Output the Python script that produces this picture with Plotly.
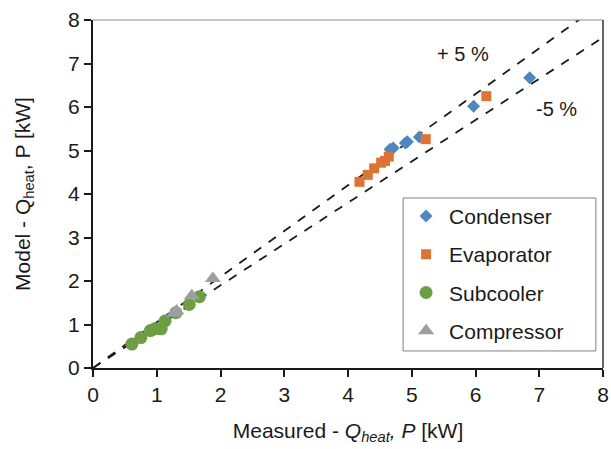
import plotly.graph_objects as go

cond_x = [4.66, 4.71, 4.90, 4.93, 5.12, 5.97, 6.85]
cond_y = [5.03, 5.06, 5.17, 5.20, 5.31, 6.02, 6.67]

evap_x = [4.18, 4.31, 4.41, 4.52, 4.58, 4.64, 5.22, 6.17]
evap_y = [4.28, 4.44, 4.59, 4.72, 4.76, 4.86, 5.26, 6.25]

sub_x = [0.61, 0.75, 0.90, 0.97, 1.07, 1.13, 1.30, 1.51, 1.67]
sub_y = [0.55, 0.70, 0.86, 0.90, 0.90, 1.08, 1.27, 1.46, 1.64]

comp_x = [1.27, 1.31, 1.55, 1.88]
comp_y = [1.26, 1.31, 1.66, 2.06]

line_x = [0, 8]
plus_factor = 1.05
minus_factor = 0.95

FONT = "Liberation Sans Narrow, Arial Narrow, Liberation Sans, Arial, sans-serif"

fig = go.Figure()
fig.add_trace(go.Scatter(x=line_x, y=[v * plus_factor for v in line_x], mode="lines",
                         line=dict(color="#1a1a1a", width=1.8, dash="dash"), showlegend=False,
                         hoverinfo="skip"))
fig.add_trace(go.Scatter(x=line_x, y=[v * minus_factor for v in line_x], mode="lines",
                         line=dict(color="#1a1a1a", width=1.8, dash="dash"), showlegend=False,
                         hoverinfo="skip"))

fig.add_trace(go.Scatter(x=cond_x, y=cond_y, mode="markers", name="Condenser", legendgroup="a",
                         marker=dict(symbol="diamond", size=10, color="#4F86C0")))
fig.add_trace(go.Scatter(x=evap_x, y=evap_y, mode="markers", name="Evaporator", legendgroup="b",
                         marker=dict(symbol="square", size=10, color="#DD7436")))
fig.add_trace(go.Scatter(x=sub_x, y=sub_y, mode="markers", name="Subcooler", legendgroup="c",
                         marker=dict(symbol="circle", size=13, color="#6E9E44")))
fig.add_trace(go.Scatter(x=comp_x, y=comp_y, mode="markers", name="Compressor", legendgroup="d",
                         marker=dict(symbol="triangle-up", size=14, color="#9E9E9E")))

axis_common = dict(range=[0, 8], dtick=1, showgrid=False, zeroline=False,
                   showline=True, linecolor="#1a1a1a", linewidth=2, automargin=False,
                   ticks="outside", ticklen=7, tickwidth=1.5, tickcolor="#1a1a1a",
                   tickfont=dict(family=FONT, size=21, color="#1a1a1a"))

fig.update_layout(
    width=611, height=449,
    margin=dict(l=93, r=8, t=20, b=81),
    paper_bgcolor="white", plot_bgcolor="white",
    font=dict(family=FONT, color="#1a1a1a"),
    xaxis=dict(**axis_common,
               title=dict(text="Measured - <i>Q<sub>heat</sub>, P</i> [kW]",
                          font=dict(family=FONT, size=21, color="#1a1a1a"), standoff=18)),
    yaxis=dict(**axis_common,
               title=dict(text="Model - Q<sub>heat</sub>, P [kW]",
                          font=dict(family=FONT, size=21, color="#1a1a1a"), standoff=32)),
    legend=dict(x=0.608, y=0.495, xanchor="left", yanchor="top",
                bgcolor="rgba(0,0,0,0)", borderwidth=0,
                font=dict(family=FONT, size=21, color="#1a1a1a"),
                itemwidth=36, tracegroupgap=8),
    shapes=[
        dict(type="rect", xref="paper", yref="paper", x0=0.608, x1=0.986, y0=0.049, y1=0.4885,
             fillcolor="white", line=dict(color="#7f7f7f", width=1), layer="above"),
        dict(type="line", xref="paper", yref="paper", x0=0, x1=1, y0=1, y1=1,
             line=dict(color="#8a8a8a", width=1)),
        dict(type="line", xref="paper", yref="paper", x0=1, x1=1, y0=0, y1=1,
             line=dict(color="#333333", width=1.5)),
    ],
    annotations=[
        dict(x=5.8, y=7.23, xref="x", yref="y", text="+ 5 %", showarrow=False,
             font=dict(family=FONT, size=20, color="#1a1a1a")),
        dict(x=7.27, y=5.95, xref="x", yref="y", text="-5 %", showarrow=False,
             font=dict(family=FONT, size=20, color="#1a1a1a")),
    ],
)

fig.write_html("out.html")
